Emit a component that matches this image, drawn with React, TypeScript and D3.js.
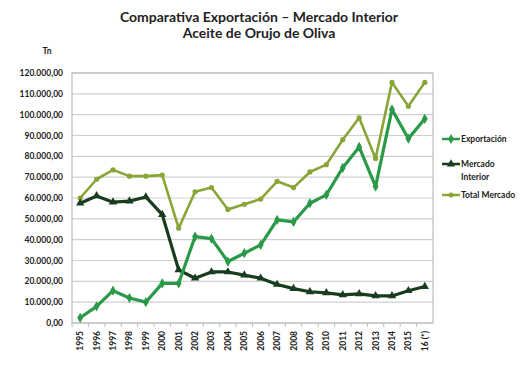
import React from 'react';
import * as d3 from 'd3';

const years = ['1995', '1996', '1997', '1998', '1999', '2000', '2001', '2002', '2003', '2004', '2005',
  '2006', '2007', '2008', '2009', '2010', '2011', '2012', '2013', '2014', '2015', '16 (*)'];

const exportacion = [2500, 8000, 15500, 12000, 10000, 19000, 19000, 41500, 40500, 29500, 33500,
  37500, 49500, 48500, 57500, 61500, 74500, 84500, 65500, 102500, 88500, 98000];

const mercadoInterior = [57500, 61000, 58000, 58500, 60500, 52000, 25500, 21500, 24500, 24500, 23000,
  21500, 18500, 16500, 15000, 14500, 13500, 14000, 13000, 13000, 15500, 17500];

const totalMercado = [60000, 69000, 73500, 70500, 70500, 71000, 45500, 63000, 65000, 54500, 57000,
  59500, 68000, 65000, 72500, 76000, 88000, 98500, 79000, 115500, 104000, 115500];

const yTicks = [0, 10000, 20000, 30000, 40000, 50000, 60000, 70000, 80000, 90000, 100000, 110000, 120000];

const W = 532;
const H = 370;
const plot = { left: 72, right: 433, top: 73, bottom: 323 };

// 120000 -> "120.000,00"
const fmt = (v: number) =>
  d3.format(',.2f')(v).replace(/,/g, '#').replace('.', ',').replace(/#/g, '.');

const C_EXP = '#2a9a48';
const C_MI = '#173d1e';
const C_TOT = '#88a536';

const App: React.FC = () => {
  const x = d3.scaleBand<string>().domain(years).range([plot.left, plot.right]);
  const xc = (i: number) => (x(years[i]) as number) + x.bandwidth() / 2;
  const y = d3.scaleLinear().domain([0, 120000]).range([plot.bottom, plot.top]);

  const line = d3
    .line<number>()
    .x((_, i) => xc(i))
    .y((d) => y(d));

  const diamond = d3.symbol(d3.symbolDiamond, 30)() as string;
  const triangle = d3.symbol(d3.symbolTriangle, 30)() as string;

  const series = [
    { name: 'Total', data: totalMercado, color: C_TOT, width: 2.6 },
    { name: 'MI', data: mercadoInterior, color: C_MI, width: 3.2 },
    { name: 'Exp', data: exportacion, color: C_EXP, width: 3.2 },
  ];

  const font = 'Lato, "DejaVu Sans", sans-serif';

  return (
    <svg width={W} height={H} style={{ display: 'block', margin: '-8px', background: '#fff' }}>
      <text x={259} y={22} textAnchor="middle" fontFamily={font} fontWeight="bold" fontSize={14} fill="#222">
        Comparativa Exportación – Mercado Interior
      </text>
      <text x={259} y={38} textAnchor="middle" fontFamily={font} fontWeight="bold" fontSize={14} fill="#222">
        Aceite de Orujo de Oliva
      </text>
      <text x={47} y={54} textAnchor="middle" fontFamily={font} fontWeight="bold" fontSize={8.5} fill="#222">Tn</text>

      {yTicks.map((t) => (
        <g key={t}>
          <line x1={plot.left} x2={plot.right} y1={y(t)} y2={y(t)} stroke="#cfcfcf" strokeWidth={1.2} />
          <text x={plot.left - 9} y={y(t) + 3} textAnchor="end" fontFamily={font} fontWeight="bold" fontSize={8.5} fill="#222">
            {fmt(t)}
          </text>
        </g>
      ))}
      <rect x={plot.left} y={plot.top} width={plot.right - plot.left} height={plot.bottom - plot.top} fill="none" stroke="#bdbdbd" strokeWidth={1.2} />
      {years.map((yr) => (
        <line key={'t' + yr} x1={x(yr) as number} x2={x(yr) as number} y1={plot.bottom} y2={plot.bottom + 4} stroke="#bdbdbd" />
      ))}
      {years.map((yr, i) => (
        <text key={yr} transform={`translate(${xc(i) + 3},${plot.bottom + 8}) rotate(-90)`} textAnchor="end"
          fontFamily={font} fontWeight="bold" fontSize={8.5} fill="#222">
          {yr}
        </text>
      ))}

      {series.map((s) => (
        <g key={s.name}>
          <path d={line(s.data) as string} fill="none" stroke={s.color} strokeWidth={s.width} strokeLinejoin="round" />
          {s.data.map((v, i) =>
            s.name === 'Total' ? (
              <circle key={i} cx={xc(i)} cy={y(v)} r={2.6} fill={s.color} />
            ) : (
              <path key={i} d={s.name === 'Exp' ? diamond : triangle} transform={`translate(${xc(i)},${y(v)})`} fill={s.color} />
            )
          )}
        </g>
      ))}

      {/* legend */}
      <g fontFamily={font} fontWeight="bold" fontSize={8.5} fill="#222">
        <line x1={442} x2={460} y1={139} y2={139} stroke={C_EXP} strokeWidth={2.5} />
        <path d={diamond} transform="translate(451,139)" fill={C_EXP} />
        <text x={461} y={142}>Exportación</text>
        <line x1={442} x2={460} y1={164} y2={164} stroke={C_MI} strokeWidth={2.5} />
        <path d={triangle} transform="translate(451,164)" fill={C_MI} />
        <text x={461} y={167}>Mercado</text>
        <text x={461} y={180}>Interior</text>
        <line x1={442} x2={460} y1={195} y2={195} stroke={C_TOT} strokeWidth={2.5} />
        <circle cx={451} cy={195} r={2.5} fill={C_TOT} />
        <text x={461} y={198}>Total Mercado</text>
      </g>
    </svg>
  );
};

export default App;
